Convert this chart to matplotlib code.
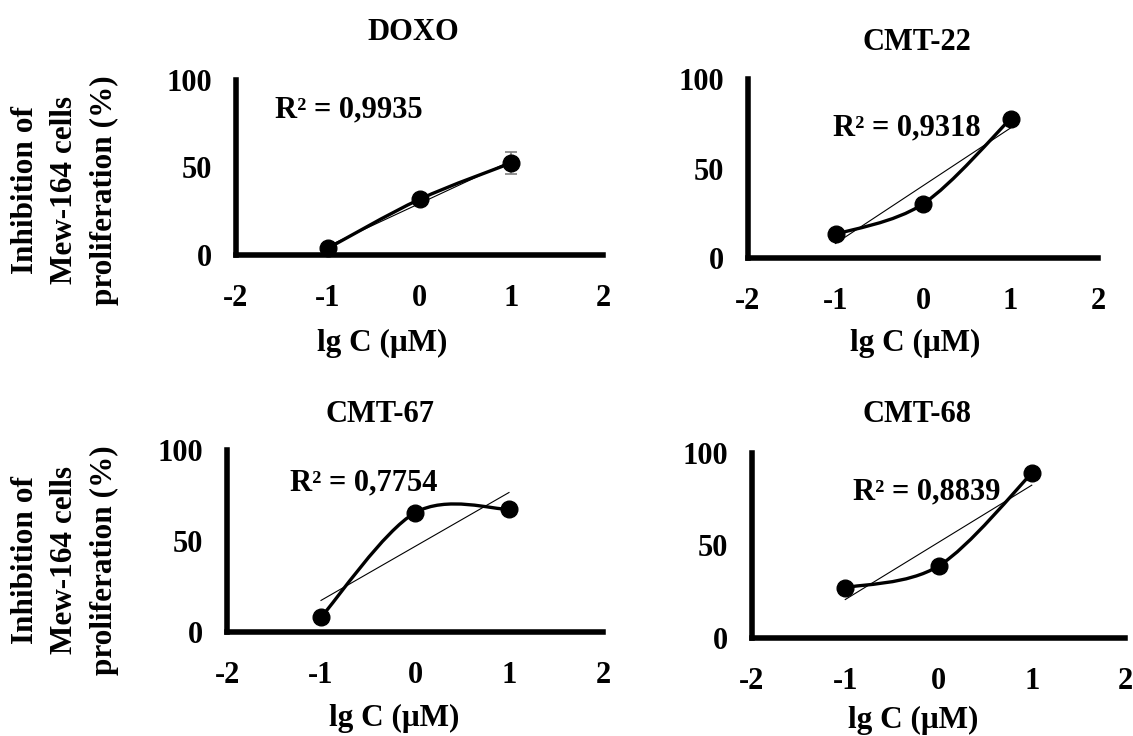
import matplotlib
matplotlib.use('Agg')
import matplotlib.pyplot as plt
import numpy as np
from matplotlib.path import Path
from matplotlib.patches import PathPatch

plt.rcParams['font.family'] = ['Liberation Serif', 'DejaVu Serif']
plt.rcParams['font.weight'] = 'bold'
plt.rcParams['axes.unicode_minus'] = False

# data
lgC = [-1, 0, 1]
titles = ['DOXO', 'CMT-22', 'CMT-67', 'CMT-68']
doxo = [3.8, 31.8, 52.6]
doxo_err = [1.5, 2.0, 6.3]
cmt22 = [13.2, 30.2, 77.7]
cmt67 = [8.1, 65.5, 67.4]
cmt68 = [27.2, 38.9, 89.0]
r2_labels = ['R² = 0,9935', 'R² = 0,9318', 'R² = 0,7754', 'R² = 0,8839']
xticks = [-2, -1, 0, 1, 2]
yticks = [0, 50, 100]
ylabel_lines = ['Inhibition of', 'Mew-164 cells', 'proliferation (%)']
xlabel = 'lg C (μM)'

series = [doxo, cmt22, cmt67, cmt68]
errors = [doxo_err, None, None, None]

W, H = 1133, 736
def fx(x):
    return x / W
def fy(y):
    return 1 - y / H

# axes boxes in pixels: left, right, bottom, top
boxes = [(236, 603, 255, 80), (748, 1098, 258, 79),
         (227, 603, 632, 450), (752, 1125, 638, 453)]
title_pos = [(413, 32), (917, 43), (380, 415), (917, 415)]
xlabel_pos = [(382, 343), (915, 343), (394, 718), (913, 720)]
r2_pos = [(275, 110), (833, 128), (290, 483), (853, 492)]


def smooth_path(x, y):
    # excel-like smoothed line (catmull-rom as bezier)
    pts = np.column_stack([x, y]).astype(float)
    n = len(pts)
    verts = [pts[0]]
    codes = [Path.MOVETO]
    for i in range(n - 1):
        p0 = pts[max(i - 1, 0)]
        p1 = pts[i]
        p2 = pts[i + 1]
        p3 = pts[min(i + 2, n - 1)]
        verts += [p1 + (p2 - p0) / 6, p2 - (p3 - p1) / 6, p2]
        codes += [Path.CURVE4] * 3
    return Path(verts, codes)


fig = plt.figure(figsize=(W / 100, H / 100), dpi=100)

for k in range(4):
    x0, x1, yb, yt = boxes[k]
    ax = fig.add_axes([fx(x0), fy(yb), (x1 - x0) / W, (yb - yt) / H])
    y = series[k]

    coef = np.polyfit(lgC, y, 1)
    ax.plot(lgC, np.polyval(coef, lgC), color='black', lw=0.8, zorder=2, clip_on=False)

    ax.add_patch(PathPatch(smooth_path(lgC, y), facecolor='none', edgecolor='black',
                           lw=2.4, capstyle='round', joinstyle='round', zorder=3, clip_on=False))

    if errors[k] is not None:
        ax.errorbar(lgC, y, yerr=errors[k], fmt='none', ecolor='#7f7f7f',
                    elinewidth=1.2, capsize=4.5, capthick=1.2, zorder=1, clip_on=False)

    ax.plot(lgC, y, 'o', color='black', ms=12, zorder=4, clip_on=False)

    ax.set_xlim(-2, 2)
    ax.set_ylim(0, 100)
    ax.set_xticks(xticks)
    ax.set_yticks(yticks)
    for s in ['top', 'right']:
        ax.spines[s].set_visible(False)
    for s in ['left', 'bottom']:
        ax.spines[s].set_linewidth(4)
    ax.tick_params(axis='both', length=0, labelsize=22)
    ax.tick_params(axis='x', pad=21)
    ax.tick_params(axis='y', pad=17)
    ax.patch.set_alpha(0)

    fig.text(fx(title_pos[k][0]), fy(title_pos[k][1]), titles[k],
             ha='center', va='center', fontsize=22)
    fig.text(fx(xlabel_pos[k][0]), fy(xlabel_pos[k][1]), xlabel,
             ha='center', va='center', fontsize=22.5)
    fig.text(fx(r2_pos[k][0]), fy(r2_pos[k][1]), r2_labels[k],
             ha='left', va='center', fontsize=22)

# shared y labels, one per row
for yc in [190, 560]:
    for xc, line in zip([26, 64, 104], ylabel_lines):
        fig.text(fx(xc), fy(yc), line, rotation=90, ha='center', va='center',
                 fontsize=22.5)

fig.savefig('out.png', dpi=100)
